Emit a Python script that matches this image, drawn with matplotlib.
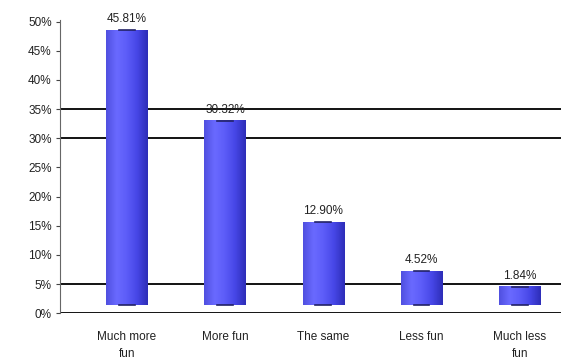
import numpy as np
import matplotlib.pyplot as plt
from matplotlib.colors import LinearSegmentedColormap

plt.rcParams['font.family'] = ['Liberation Sans', 'DejaVu Sans']

# survey answers
categories = ['Much more\nfun', 'More fun', 'The same', 'Less fun', 'Much less\nfun']
values = [45.81, 30.32, 12.90, 4.52, 1.84]
labels = ['45.81%', '30.32%', '12.90%', '4.52%', '1.84%']
yticks = [0, 5, 10, 15, 20, 25, 30, 35, 40, 45, 50]
gridlines = [5, 30, 35]

fig = plt.figure(figsize=(5.61, 3.6), dpi=100)
ax = fig.add_axes([0.107, 0.13, 0.893, 0.815])

# cylinder shading, light on the left, darker on the right
cyl = LinearSegmentedColormap.from_list('cyl', ['#5050e0', '#6a6aff', '#5c5cf8', '#4646e6', '#2e2eb8'])
grad = np.linspace(0, 1, 64).reshape(1, -1)

x = np.arange(len(categories))
width = 0.42
base = 1.4   # pseudo 3d offset of the cylinder floor
lift = 2.7   # pseudo 3d offset of the cylinder top

for xi, v, lab in zip(x, values, labels):
    top = v + lift
    ax.imshow(grad, cmap=cyl, aspect='auto', extent=[xi - width / 2, xi + width / 2, base, top],
              zorder=3, interpolation='bicubic')
    ax.plot([xi - 0.08, xi + 0.08], [top, top], color='#222266', lw=1.2, zorder=4)
    ax.plot([xi - 0.08, xi + 0.08], [base, base], color='#222266', lw=1.2, zorder=4)
    ax.text(xi, v + 4.6, lab, ha='center', va='center', fontsize=8.5, color='#222222', zorder=5)

for g in gridlines:
    ax.axhline(g, color='black', lw=1.3, zorder=2)
ax.axhline(0, color='black', lw=1.3, zorder=2)

ax.set_xlim(-0.68, 4.42)
ax.set_ylim(0, 50.3)
ax.set_yticks(yticks)
ax.set_yticklabels([f'{t}%' for t in yticks], fontsize=8.5, color='#222222')
ax.set_xticks(x)
ax.set_xticklabels(categories, fontsize=8.5, color='#222222', linespacing=1.5)
ax.tick_params(axis='y', length=3, width=0.8, color='#444444', pad=3)
ax.tick_params(axis='x', length=0, pad=13)

for s in ['top', 'right', 'bottom']:
    ax.spines[s].set_visible(False)
ax.spines['left'].set_color('#666666')
ax.spines['left'].set_linewidth(0.8)

fig.savefig('out.png', dpi=100)
